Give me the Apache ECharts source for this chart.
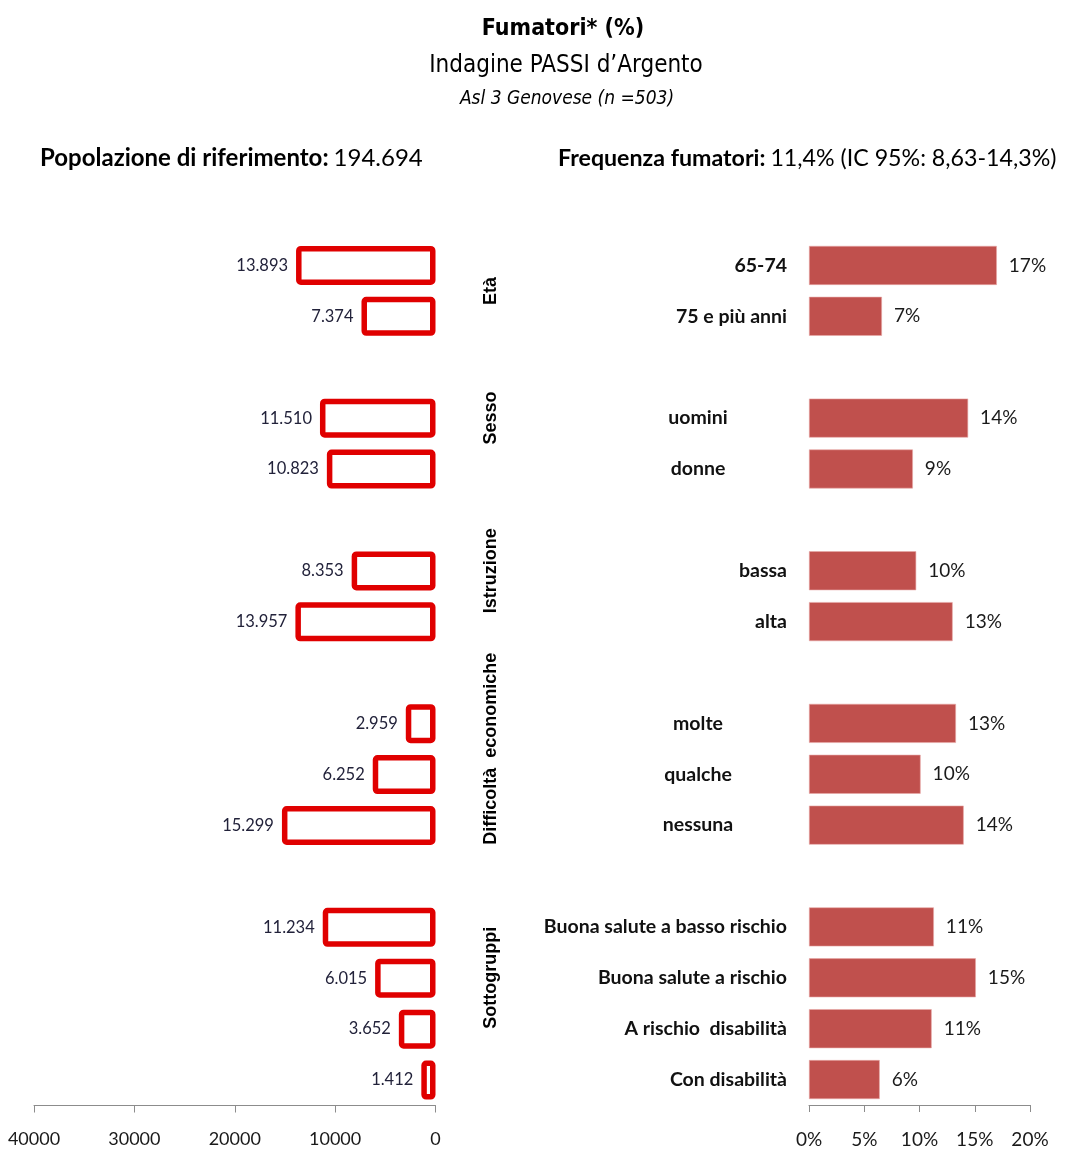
<!DOCTYPE html>
<html>
<head>
<meta charset="utf-8">
<script src="https://cdn.jsdelivr.net/npm/echarts@6/dist/echarts.min.js"></script>
<style>
html,body{margin:0;padding:0;background:#fff;}
#chart{width:1070px;height:1149px;}
</style>
</head>
<body>
<div id="chart"></div>
<script>
// ---- data ----
var categories = ['65-74', '75 e più anni', ' ', 'uomini', 'donne', '  ', 'bassa', 'alta', '   ',
  'molte', 'qualche', 'nessuna', '    ',
  'Buona salute a basso rischio', 'Buona salute a rischio', 'A rischio  disabilità', 'Con disabilità'];
var popolazione = [13893, 7374, null, 11510, 10823, null, 8353, 13957, null,
  2959, 6252, 15299, null, 11234, 6015, 3652, 1412];
var frequenza = [17.0, 6.6, null, 14.4, 9.4, null, 9.7, 13.0, null,
  13.3, 10.1, 14.0, null, 11.3, 15.1, 11.1, 6.4];
var groupNames = ['Età', 'Sesso', 'Istruzione', 'Difficoltà  economiche', 'Sottogruppi'];
var groupAnchors = [0.5, 3, 6, 9.5, 14];
var popTicks = [0, 10000, 20000, 30000, 40000];
var freqTicks = [0, 5, 10, 15, 20];

var titleMain = 'Fumatori* (%)';
var titleSub = 'Indagine PASSI d\u2019Argento';
var titleSub2 = 'Asl 3 Genovese (n =503)';
var headLeftB = 'Popolazione di riferimento:', headLeftR = '194.694';
var headRightB = 'Frequenza fumatori:', headRightR = '11,4% (IC 95%: 8,63-14,3%)';

// category rows whose label is centred (as in the original layout)
var centeredRows = [3, 4, 9, 10, 11];

function fmtIt(v) { return String(v).replace(/\B(?=(\d{3})+(?!\d))/g, '.'); }

var calibri = 'Lato, "Noto Sans", sans-serif';
var narrow = '"Liberation Sans Narrow", "DejaVu Sans Condensed", "Liberation Sans", sans-serif';
var catStyle = {fontFamily: calibri, fontWeight: 'bold', fontSize: 19.5, color: '#111'};

var chart = echarts.init(document.getElementById('chart'), null, {renderer: 'canvas'});
var option = {
  backgroundColor: '#ffffff',
  animation: false,
  title: [
    {text: titleMain, left: 558, top: 13, textAlign: 'center',
      textStyle: {fontFamily: narrow, fontWeight: 'bold', fontSize: 23, color: '#000'}},
    {text: titleSub, left: 561, top: 49, textAlign: 'center',
      textStyle: {fontFamily: narrow, fontWeight: 'normal', fontSize: 24, color: '#000'}},
    {text: titleSub2, left: 562, top: 85, textAlign: 'center',
      textStyle: {fontFamily: narrow, fontStyle: 'italic', fontWeight: 'normal', fontSize: 19, color: '#000'}},
    {text: '{b|' + headLeftB + '} {r|' + headLeftR + '}', left: 35, top: 141,
      textStyle: {rich: {
        b: {fontFamily: calibri, fontWeight: 'bold', fontSize: 24, color: '#000'},
        r: {fontFamily: calibri, fontWeight: 'normal', fontSize: 24, color: '#000'}}}},
    {text: '{b|' + headRightB + '} {r|' + headRightR + '}', left: 553, top: 142,
      textStyle: {rich: {
        b: {fontFamily: calibri, fontWeight: 'bold', fontSize: 23.2, color: '#000'},
        r: {fontFamily: calibri, fontWeight: 'normal', fontSize: 23.2, color: '#000'}}}}
  ],
  grid: [
    {left: 34, right: 634.5, top: 240, bottom: 43.5, containLabel: false},
    {left: 809, right: 40, top: 240, bottom: 43.5, containLabel: false}
  ],
  xAxis: [
    {type: 'value', gridIndex: 0, inverse: true, min: popTicks[0], max: popTicks[popTicks.length - 1],
      interval: 10000, position: 'bottom',
      axisLine: {show: true, lineStyle: {color: '#8c8c8c', width: 1}},
      axisTick: {show: true, length: 7, lineStyle: {color: '#8c8c8c'}},
      splitLine: {show: false},
      axisLabel: {margin: 25, fontFamily: calibri, fontSize: 18, color: '#1a1a1a',
        formatter: function (v) { return String(v); }}},
    {type: 'value', gridIndex: 1, min: freqTicks[0], max: freqTicks[freqTicks.length - 1],
      interval: 5, position: 'bottom',
      axisLine: {show: true, lineStyle: {color: '#8c8c8c', width: 1}},
      axisTick: {show: true, length: 7, lineStyle: {color: '#8c8c8c'}},
      splitLine: {show: false},
      axisLabel: {margin: 25, fontFamily: calibri, fontSize: 19, color: '#1a1a1a',
        formatter: function (v) { return v + '%'; }}}
  ],
  yAxis: [
    {type: 'category', gridIndex: 0, data: categories, inverse: true, position: 'right',
      axisLine: {show: false}, axisTick: {show: false}, axisLabel: {show: false}},
    {type: 'category', gridIndex: 1, data: categories, inverse: true,
      axisLine: {show: false}, axisTick: {show: false},
      axisLabel: {margin: 22, fontFamily: calibri, fontWeight: 'bold', fontSize: 19.5, color: '#111',
        formatter: function (v, idx) {
          return (centeredRows.indexOf(idx) >= 0 ? '{c|' : '{r|') + v + '}';
        },
        rich: {
          c: Object.assign({width: 178, align: 'center'}, catStyle),
          r: Object.assign({}, catStyle)
        }}}
  ],
  series: [
    {type: 'bar', name: 'Popolazione', xAxisIndex: 0, yAxisIndex: 0, data: popolazione,
      barWidth: 39,
      itemStyle: {color: '#ffffff', borderColor: '#e00000', borderWidth: 5.5, borderRadius: 2},
      label: {show: true, position: 'left', distance: 8, fontFamily: calibri, fontSize: 16.5,
        color: '#22223a', formatter: function (p) { return fmtIt(p.value); }}},
    {type: 'bar', name: 'Frequenza', xAxisIndex: 1, yAxisIndex: 1, data: frequenza,
      barWidth: 39,
      itemStyle: {color: '#c0504d', borderColor: '#e8a8a6', borderWidth: 0.6},
      label: {show: true, position: 'right', distance: 12, fontFamily: calibri, fontSize: 19,
        color: '#1a1a1a', formatter: function (p) { return Math.round(p.value) + '%'; }}}
  ]
};
chart.setOption(option);

// group labels (rotated), positioned through the category axis scale
var gfx = [];
for (var i = 0; i < groupNames.length; i++) {
  var a = groupAnchors[i];
  var lo = Math.floor(a), hi = Math.ceil(a);
  var yLo = chart.convertToPixel({yAxisIndex: 1}, categories[lo]);
  var yHi = chart.convertToPixel({yAxisIndex: 1}, categories[hi]);
  var y = yLo + (yHi - yLo) * (a - lo);
  gfx.push({
    type: 'text', x: 491, y: y, rotation: Math.PI / 2,
    style: {text: groupNames[i], fill: '#000', font: 'bold 18px "Liberation Sans", Arial, sans-serif',
      align: 'center', verticalAlign: 'middle'}
  });
}
chart.setOption({graphic: gfx});
</script>
</body>
</html>
